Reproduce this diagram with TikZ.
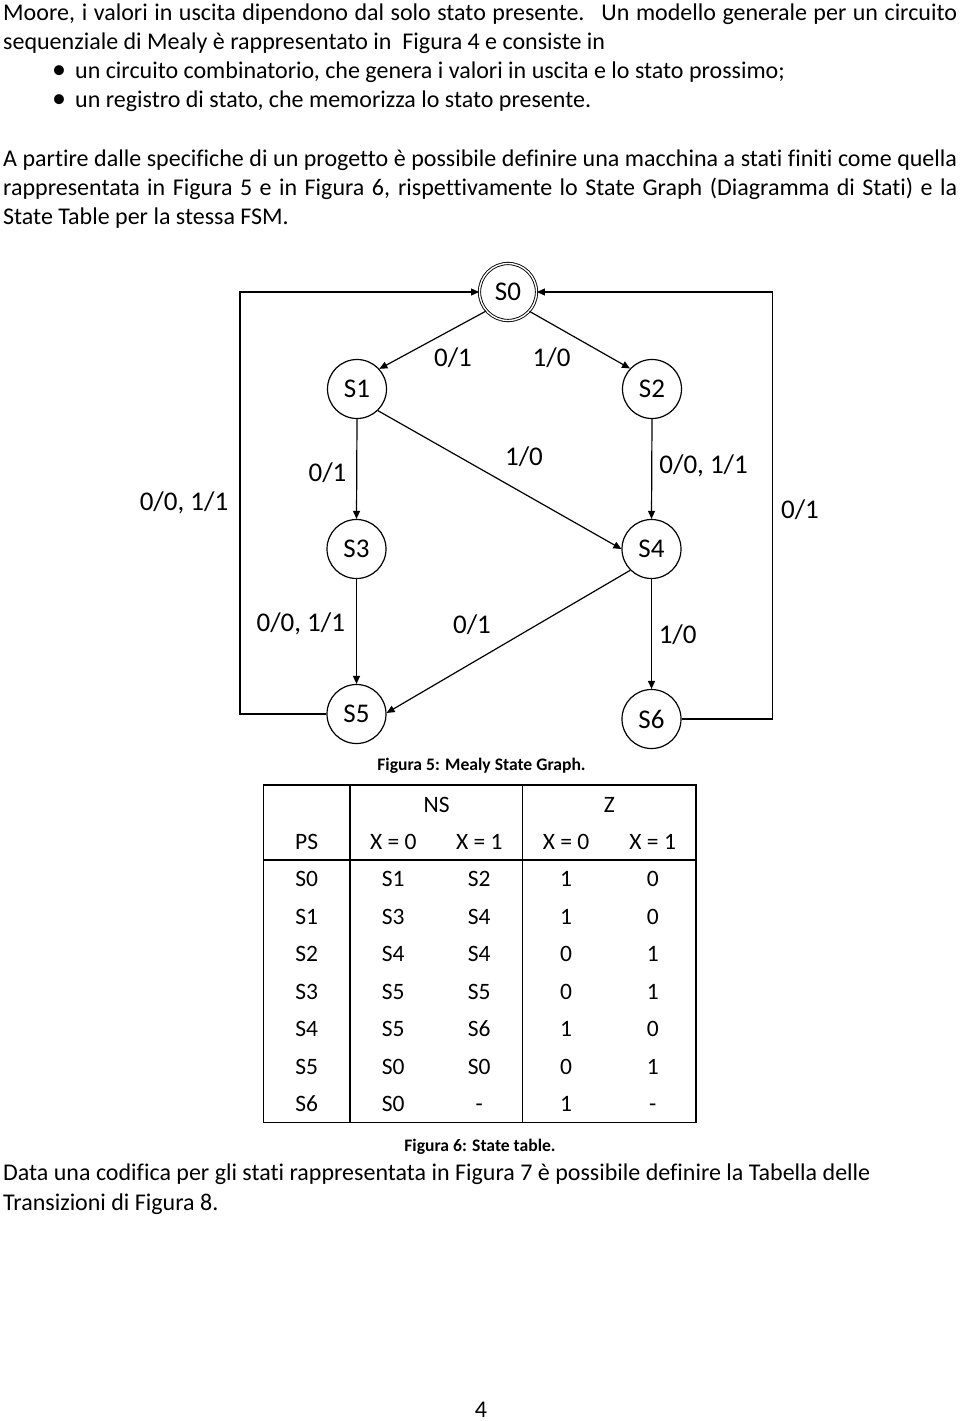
\documentclass[tikz,border=0pt]{standalone}
\usepackage{fontspec}
\setmainfont{Carlito}[Ligatures={NoCommon}]
\usetikzlibrary{arrows.meta}
\tikzset{
  body/.style={inner sep=0pt, anchor=base west, font=\fontsize{24}{29}\selectfont},
  state/.style={circle, draw, line width=1.2pt, minimum size=59pt, inner sep=0pt, font=\fontsize{27}{30}\selectfont},
  lab/.style={inner sep=0pt, anchor=base, font=\fontsize{27}{30}\selectfont},
  arr/.style={line width=1.2pt, -{Triangle[length=8pt,width=7pt]}},
  figcap/.style={inner sep=0pt, anchor=base, font=\fontsize{17.6}{20}\selectfont\bfseries},
  cell/.style={inner sep=0pt, anchor=base, font=\fontsize{23.5}{28}\selectfont},
  tline/.style={line width=1.3pt}
}
\begin{document}
\begin{tikzpicture}[x=1pt,y=-1pt]
\useasboundingbox (0,0) rectangle (960,1421);
% ---------- body text ----------
\node[body] (p1) at (3,20.5) {\makebox[954pt][s]{Moore, i valori in uscita dipendono dal solo stato presente.~ Un modello generale per un circuito}};
\node[body] (p2) at (3,49.5) {sequenziale di Mealy è rappresentato in~ Figura 4 e consiste in};
\node[body, anchor=base] (b1) at (59,78.5) {\fontsize{28}{29}\selectfont •};
\node[body] (l1) at (75,78.5) {un circuito combinatorio, che genera i valori in uscita e lo stato prossimo;};
\node[body, anchor=base] (b2) at (59,107.5) {\fontsize{28}{29}\selectfont •};
\node[body] (l2) at (75,107.5) {un registro di stato, che memorizza lo stato presente.};
\node[body] (q1) at (3,166) {\makebox[954pt][s]{A partire dalle specifiche di un progetto è possibile definire una macchina a stati finiti come quella}};
\node[body] (q2) at (3,195) {\makebox[954pt][s]{rappresentata in Figura 5 e in Figura 6, rispettivamente lo State Graph (Diagramma di Stati) e la}};
\node[body] (q3) at (3,224) {State Table per la stessa FSM.};
% ---------- state graph ----------
\node[state, double, double distance=1.4pt, line width=0.9pt, minimum size=57pt] (S0) at (508,292) {S0};
\node[state] (S1) at (357,389) {S1};
\node[state] (S2) at (652,389) {S2};
\node[state] (S3) at (356.5,549) {S3};
\node[state] (S4) at (651.5,549) {S4};
\node[state] (S5) at (356.5,714) {S5};
\node[state] (S6) at (651.5,719) {S6};
\coordinate (cL) at (240,292);
\coordinate (cR) at (772.5,292);
\draw[arr] (S0.221) -- (S1.42);
\draw[arr] (S0.318) -- (S2.137);
\draw[arr] (S1.south) -- (S3.north);
\draw[arr] (S1.314) -- (S4.west);
\draw[arr] (S2.south) -- (S4.north);
\draw[arr] (S3.south) -- (S5.north);
\draw[arr] (S4.225) -- (S5.2);
\draw[arr] (S4.south) -- (S6.north);
\draw[arr] (S5.west) -| (cL) -- (S0.west);
\draw[arr] (S6.east) -| (cR) -- (S0.east);
\node[lab] (e01) at (453,366.3) {0/1};
\node[lab] (e02) at (551.6,366.3) {1/0};
\node[lab] (e13) at (327.5,481.3) {0/1};
\node[lab] (e14) at (524,465) {1/0};
\node[lab] (e24) at (703.6,473.3) {0/0, 1/1};
\node[lab] (e50) at (184,510) {0/0, 1/1};
\node[lab] (e60) at (800,518.3) {0/1};
\node[lab] (e35) at (300.8,631.6) {0/0, 1/1};
\node[lab] (e45) at (472,633.3) {0/1};
\node[lab] (e46) at (677.7,643.3) {1/0};
\node[figcap] (c5) at (481.5,770.5) {Figura 5: Mealy State Graph.};
% ---------- state table ----------
\draw[tline] (263.3,785) rectangle (696,1122.3);
\draw[tline] (350,785) -- (350,1122.3);
\draw[tline] (522.7,785) -- (522.7,1122.3);
\draw[tline] (263.3,860) -- (696,860);
\node[cell] (hNS) at (436.7,812.4) {NS};
\node[cell] (hZ) at (609.3,812.4) {Z};
\node[cell] (hPS) at (306.7,849.7) {PS};
\node[cell] (h1) at (393.3,849.7) {X = 0};
\node[cell] (h2) at (479.3,849.7) {X = 1};
\node[cell] (h3) at (566,849.7) {X = 0};
\node[cell] (h4) at (652.7,849.7) {X = 1};
\foreach \ps/\a/\b/\c/\d [count=\i from 0] in {S0/S1/S2/1/0, S1/S3/S4/1/0, S2/S4/S4/0/1, S3/S5/S5/0/1, S4/S5/S6/1/0, S5/S0/S0/0/1, S6/S0/-/1/-}{
  \pgfmathsetmacro{\yy}{886.7+37.5*\i}
  \node[cell] (r\i c0) at (306.7,\yy) {\ps};
  \node[cell] (r\i c1) at (393.3,\yy) {\a};
  \node[cell] (r\i c2) at (479.3,\yy) {\b};
  \node[cell] (r\i c3) at (566,\yy) {\c};
  \node[cell] (r\i c4) at (652.7,\yy) {\d};
}
\node[figcap] (c6) at (480,1151) {Figura 6: State table.};
% ---------- bottom text ----------
\node[body] (d1) at (3,1180.5) {Data una codifica per gli stati rappresentata in Figura 7 è possibile definire la Tabella delle};
\node[body] (d2) at (3,1210.5) {Transizioni di Figura 8.};
\node[body, anchor=base] (pg) at (481,1417) {4};
\end{tikzpicture}
\end{document}
